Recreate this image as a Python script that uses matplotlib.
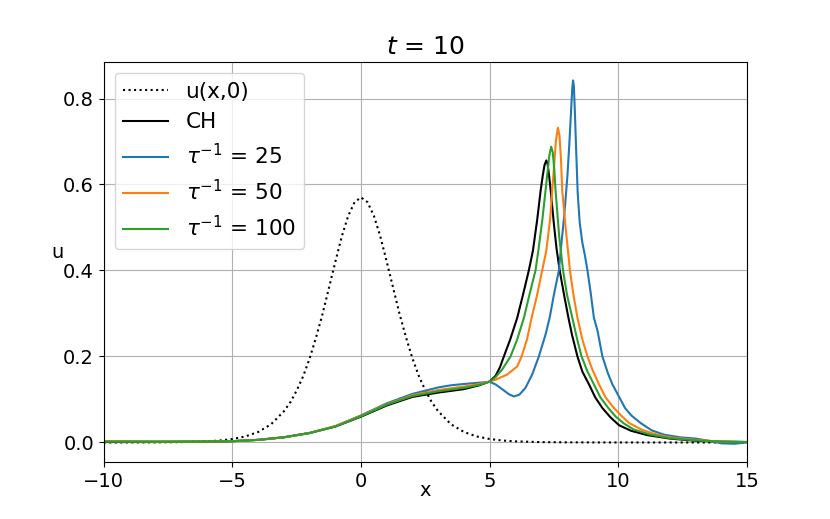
import matplotlib
matplotlib.use("Agg")
import matplotlib.pyplot as plt

# initial profile u(x,0)
x0 = [-10, -8, -7, -6, -5.5, -5, -4.5, -4, -3.5, -3, -2.75, -2.5, -2.25, -2, -1.75,
      -1.5, -1.25, -1, -0.75, -0.5, -0.25, 0,
      0.25, 0.5, 0.75, 1, 1.25, 1.5, 1.75, 2, 2.25, 2.5, 2.75, 3, 3.5, 4, 4.5, 5,
      5.5, 6, 7, 8, 9, 10, 12, 15]
u0 = [0.0, 0.0003, 0.0008, 0.0026, 0.0045, 0.008, 0.0139, 0.0243, 0.0421, 0.0724,
      0.0934, 0.121, 0.154, 0.195, 0.244, 0.298, 0.359, 0.420, 0.479, 0.527,
      0.559, 0.570,
      0.559, 0.527, 0.479, 0.420, 0.359, 0.298, 0.244, 0.195, 0.154, 0.121,
      0.0934, 0.0724, 0.0421, 0.0243, 0.0139, 0.008, 0.0045, 0.0026, 0.0008,
      0.0003, 0.0001, 0.0, 0.0, 0.0]

# Camassa-Holm reference at t = 10
x_ch = [-10, -8, -6, -5, -4, -3, -2, -1, 0, 1, 2, 3, 4, 4.6, 5.0, 5.23, 5.4, 5.55,
        5.8, 6.07, 6.3, 6.52, 6.68, 6.85, 6.98, 7.06, 7.13, 7.2, 7.25, 7.31, 7.37,
        7.5, 7.6, 7.72, 7.9, 8.06, 8.2, 8.41, 8.6, 8.86, 9.1, 9.38, 9.7, 10.03,
        10.5, 11.13, 12, 13, 14, 15]
u_ch = [0.001, 0.001, 0.002, 0.003, 0.006, 0.012, 0.022, 0.037, 0.060, 0.086,
        0.106, 0.116, 0.124, 0.133, 0.142, 0.155, 0.175, 0.200, 0.240, 0.290,
        0.345, 0.400, 0.446, 0.520, 0.586, 0.620, 0.645, 0.656, 0.648, 0.620,
        0.586, 0.505, 0.450, 0.400, 0.340, 0.290, 0.250, 0.200, 0.165, 0.135,
        0.105, 0.080, 0.058, 0.040, 0.027, 0.017, 0.009, 0.004, 0.002, 0.001]

# tau^-1 = 25
x_25 = [-10, -8, -6, -5, -4, -3, -2, -1, 0, 1, 2, 3, 3.5, 4, 4.6, 5.0, 5.23, 5.55,
        5.75, 5.94, 6.15, 6.39, 6.65, 6.91, 7.17, 7.33, 7.5, 7.69, 7.76, 7.9,
        8.02, 8.1, 8.17, 8.21, 8.24, 8.27, 8.31, 8.36, 8.42, 8.5, 8.6, 8.7, 8.8,
        8.92, 9.05, 9.19, 9.38, 9.6, 9.77, 10.03, 10.26, 10.5, 10.87, 11.3, 11.78,
        12.4, 13.0, 13.5, 14.0, 14.5, 15]
u_25 = [0.003, 0.002, 0.002, 0.003, 0.006, 0.012, 0.022, 0.038, 0.063, 0.091,
        0.113, 0.128, 0.133, 0.136, 0.139, 0.141, 0.135, 0.121, 0.112, 0.107,
        0.111, 0.127, 0.158, 0.200, 0.251, 0.290, 0.345, 0.400, 0.446, 0.530,
        0.620, 0.700, 0.780, 0.825, 0.842, 0.830, 0.770, 0.680, 0.580, 0.510,
        0.465, 0.435, 0.400, 0.350, 0.290, 0.260, 0.200, 0.160, 0.135, 0.106,
        0.080, 0.063, 0.045, 0.028, 0.018, 0.012, 0.009, 0.004, -0.002, -0.003,
        0.0]

# tau^-1 = 50
x_50 = [-10, -8, -6, -5, -4, -3, -2, -1, 0, 1, 2, 3, 4, 4.6, 5.0, 5.23, 5.68, 6.07,
        6.24, 6.45, 6.63, 6.85, 7.04, 7.2, 7.35, 7.43, 7.5, 7.57, 7.65, 7.71,
        7.77, 7.82, 7.95, 8.12, 8.25, 8.41, 8.6, 8.8, 9.0, 9.25, 9.5, 9.83, 10.1,
        10.42, 10.9, 11.39, 12, 13, 14, 15]
u_50 = [0.003, 0.002, 0.002, 0.003, 0.006, 0.012, 0.022, 0.038, 0.062, 0.089,
        0.110, 0.122, 0.130, 0.136, 0.142, 0.146, 0.158, 0.177, 0.200, 0.240,
        0.290, 0.345, 0.400, 0.446, 0.520, 0.586, 0.640, 0.700, 0.732, 0.715,
        0.660, 0.586, 0.500, 0.400, 0.345, 0.290, 0.240, 0.200, 0.168, 0.135,
        0.105, 0.080, 0.063, 0.045, 0.030, 0.020, 0.012, 0.006, 0.002, 0.001]

# tau^-1 = 100
x_100 = [-10, -8, -6, -5, -4, -3, -2, -1, 0, 1, 2, 3, 4, 4.6, 5.0, 5.23, 5.49, 5.81,
         6.07, 6.33, 6.55, 6.78, 6.89, 7.05, 7.17, 7.25, 7.32, 7.39, 7.45, 7.51,
         7.56, 7.7, 7.85, 8.0, 8.21, 8.4, 8.57, 8.8, 9.05, 9.3, 9.61, 9.9, 10.22,
         10.6, 11.26, 12, 13, 14, 15]
u_100 = [0.002, 0.002, 0.002, 0.003, 0.006, 0.012, 0.022, 0.037, 0.061, 0.088,
         0.108, 0.119, 0.127, 0.134, 0.141, 0.152, 0.170, 0.200, 0.240, 0.290,
         0.345, 0.400, 0.446, 0.520, 0.586, 0.630, 0.668, 0.688, 0.675, 0.635,
         0.586, 0.480, 0.400, 0.345, 0.290, 0.240, 0.200, 0.165, 0.135, 0.105,
         0.080, 0.060, 0.044, 0.030, 0.018, 0.010, 0.005, 0.002, 0.001]

plt.rcParams['font.size'] = 14

fig, ax = plt.subplots(figsize=(8.3, 5.19), dpi=100)

ax.plot(x0, u0, ':', color='black', label='u(x,0)')
ax.plot(x_ch, u_ch, color='black', label='CH')
ax.plot(x_25, u_25, color='tab:blue', label=r'$\tau^{-1}$ = 25')
ax.plot(x_50, u_50, color='tab:orange', label=r'$\tau^{-1}$ = 50')
ax.plot(x_100, u_100, color='tab:green', label=r'$\tau^{-1}$ = 100')

ax.set_xlim(-10, 15)
ax.set_xlabel('x', labelpad=-7)
ax.set_ylabel('u', rotation=0)
ax.set_title(r'$t$ = 10', fontsize=18)
ax.grid(True)
ax.legend(loc='upper left', fontsize=15.5, handlelength=2.1)

fig.savefig('out.png')
